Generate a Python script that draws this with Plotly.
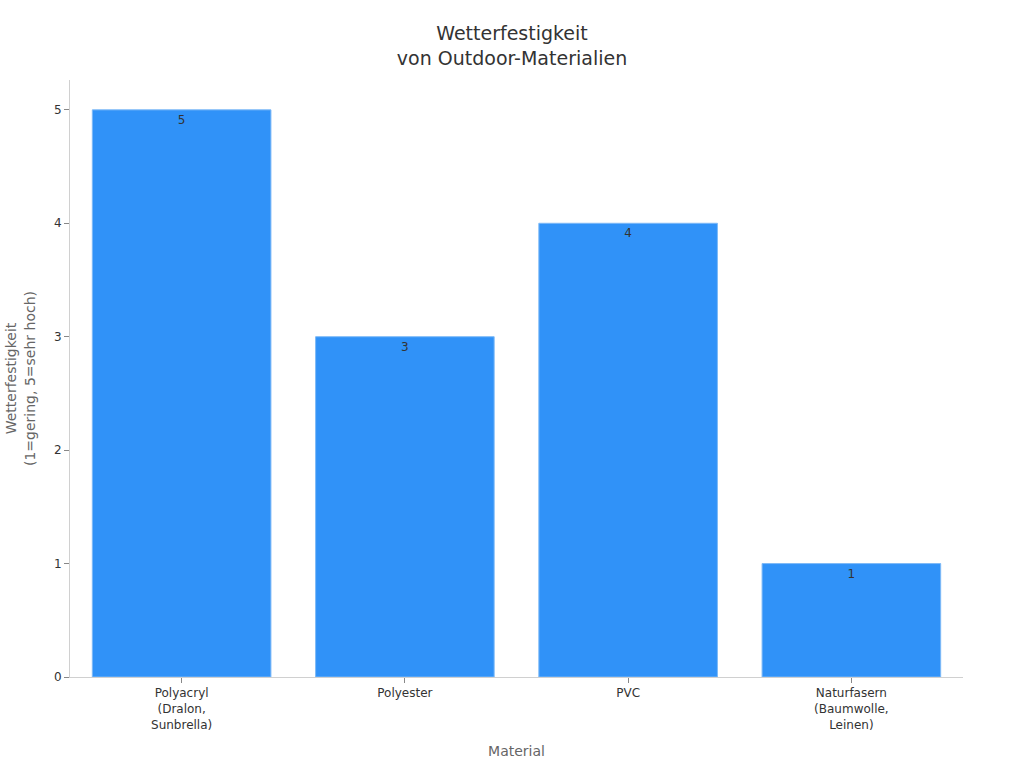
import plotly.graph_objects as go

materials = ["Polyacryl<br>(Dralon,<br>Sunbrella)", "Polyester", "PVC", "Naturfasern<br>(Baumwolle,<br>Leinen)"]
ratings = [5, 3, 4, 1]

fig = go.Figure(go.Bar(
    x=materials, y=ratings,
    text=ratings, textposition="inside", insidetextanchor="end",
    textfont=dict(color="#333333", size=12),
    marker=dict(color="#3092F8", line=dict(color="#7DB9F7", width=1)),
))
fig.update_layout(
    width=1024, height=768,
    font=dict(family="DejaVu Sans", color="#333333"),
    title=dict(text="Wetterfestigkeit<br>von Outdoor-Materialien", x=0.5, xanchor="center",
               y=0.948, font=dict(size=19, color="#333333")),
    paper_bgcolor="white", plot_bgcolor="white",
    margin=dict(l=70, r=61, t=80, b=91),
    bargap=0.2, showlegend=False,
)
fig.update_xaxes(title=dict(text="Material", font=dict(size=14, color="#666666")),
                 showline=True, linecolor="#D0D0D0", ticks="outside", tickcolor="#888888",
                 tickfont=dict(size=12))
fig.update_yaxes(title=dict(text="Wetterfestigkeit<br>(1=gering, 5=sehr hoch)", font=dict(size=14, color="#666666")),
                 showline=True, linecolor="#D0D0D0", ticks="outside", tickcolor="#888888",
                 showgrid=False, zeroline=False, tickfont=dict(size=12), dtick=1)
# drop the browser's default body margin so the figure sits at the window corner
fig.write_html("out.html", config={"displayModeBar": False},
               post_script="document.body.style.margin='0';")
